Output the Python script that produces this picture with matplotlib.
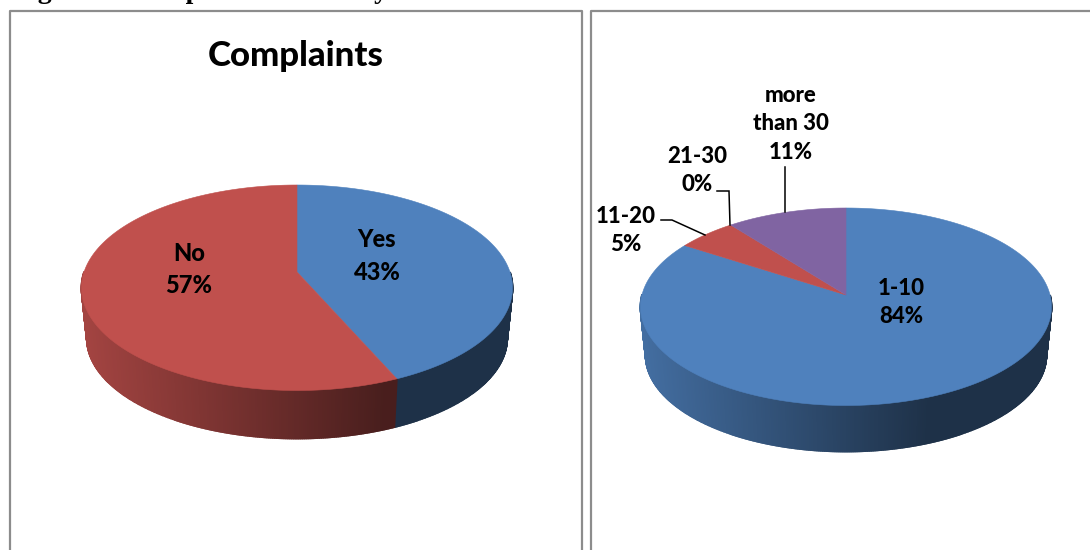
import numpy as np
import matplotlib
matplotlib.use("Agg")
import matplotlib.pyplot as plt
from matplotlib.patches import Polygon

# -------------------------
# Data
# -------------------------
complaint_labels = ["Yes", "No"]
complaint_values = [43.4, 56.6]
complaint_shown = ["43%", "57%"]

count_labels = ["1-10", "11-20", "21-30", "more\nthan 30"]
count_values = [84.1, 5.3, 0.0, 10.6]
count_shown = ["84%", "5%", "0%", "11%"]

complaint_colors = ["#4F81BD", "#C0504D"]
count_colors = ["#4F81BD", "#C0504D", "#9BBB59", "#8064A2"]

plt.rcParams["font.family"] = ["Lato", "DejaVu Sans"]
plt.rcParams["font.weight"] = "bold"


# -------------------------
# Drawing helpers
# -------------------------
def project(angle, cx, cy, a, b, k):
    """Angle clockwise from the top of the disc -> picture position, with perspective."""
    u, v = np.sin(angle), np.cos(angle)
    w = 1 + k * v
    return cx + a * u / w, cy - b * v / w


def side_shade(color, x, cx, rx):
    """Side wall is lighter on the left and dark from a bit right of centre."""
    t = np.clip((x - cx) / rx, -1, 0.4)
    f = 0.85 + (t + 1) / 1.4 * (0.38 - 0.85)
    return tuple(c * f for c in matplotlib.colors.to_rgb(color))


def draw_pie(ax, values, colors, cx, cy, rx, half_top, half_bottom, depth):
    k = (half_bottom - half_top) / (half_bottom + half_top)
    b = half_top * (1 + k)
    a = rx * np.sqrt(1 - k ** 2)
    s = 0.975
    # lower rim: same disc, slightly smaller, moved down
    cy2 = cy + half_bottom + depth - half_bottom * s

    edges = np.cumsum([0] + list(values)) / sum(values) * 2 * np.pi
    for i, color in enumerate(colors):
        if values[i] <= 0:
            continue
        steps = np.arange(edges[i], edges[i + 1], np.radians(0.5))
        steps = np.append(steps, edges[i + 1])
        # wall first, top face covers what is behind
        for t0, t1 in zip(steps[:-1], steps[1:]):
            if np.cos(t0) > 0 and np.cos(t1) > 0:
                continue
            x0, y0 = project(t0, cx, cy, a, b, k)
            x1, y1 = project(t1, cx, cy, a, b, k)
            x2, y2 = project(t1, cx, cy2, a * s, b * s, k)
            x3, y3 = project(t0, cx, cy2, a * s, b * s, k)
            shade = side_shade(color, (x0 + x1) / 2, cx, rx)
            ax.add_patch(Polygon([(x0, y0), (x1, y1), (x2, y2), (x3, y3)],
                                 facecolor=shade, edgecolor=shade, lw=1.3, zorder=2))

    for i, color in enumerate(colors):
        if values[i] <= 0:
            continue
        steps = np.linspace(edges[i], edges[i + 1], 300)
        xs, ys = project(steps, cx, cy, a, b, k)
        pts = [(cx, cy)] + list(zip(xs, ys))
        ax.add_patch(Polygon(pts, facecolor=color, edgecolor=color, lw=0.4, zorder=3))


# -------------------------
# Figure
# -------------------------
fig = plt.figure(figsize=(10.9, 5.5), dpi=100)
ax = fig.add_axes([0, 0, 1, 1])
ax.set_xlim(0, 1090)
ax.set_ylim(550, 0)
ax.axis("off")

# caption cut off by the top of the image
ax.text(13, -2.5, "Figure 4: Complaints and delays", family="Liberation Serif",
        fontweight="bold", fontsize=20, va="baseline", ha="left", color="black")

frame = "#8C8C8C"
ax.plot([9.5, 9.5, 581.5, 581.5], [552, 11, 11, 552], color=frame, lw=1.6, zorder=1)
ax.plot([590.5, 590.5, 1092], [552, 11, 11], color=frame, lw=1.6, zorder=1)

draw_pie(ax, complaint_values, complaint_colors, 297, 272, 215.5, 87, 118.5, 48)
draw_pie(ax, count_values, count_colors, 846, 295, 205.5, 87, 110.5, 46)

left_size = 17
right_size = 16
heavy = 900

ax.text(296, 56.5, "Complaints", fontsize=25, fontweight=heavy, ha="center", va="center",
        color="black", zorder=5)

ax.text(377, 256, complaint_labels[0] + "\n" + complaint_shown[0], fontsize=left_size,
        fontweight=heavy, ha="center", va="center", linespacing=1.5, zorder=5)
ax.text(189, 269.5, complaint_labels[1] + "\n" + complaint_shown[1], fontsize=left_size,
        fontweight=heavy, ha="center", va="center", linespacing=1.47, zorder=5)

ax.text(901, 302.5, count_labels[0] + "\n" + count_shown[0], fontsize=right_size,
        fontweight=heavy, ha="center", va="center", linespacing=1.47, zorder=5)
ax.text(626, 230.5, count_labels[1] + "\n" + count_shown[1], fontsize=right_size,
        fontweight=heavy, ha="center", va="center", linespacing=1.47, zorder=5)
ax.text(697, 170.5, count_labels[2] + "\n" + count_shown[2], fontsize=right_size,
        fontweight=heavy, ha="center", va="center", linespacing=1.47, zorder=5)
ax.text(791, 124, count_labels[3] + "\n" + count_shown[3], fontsize=right_size,
        fontweight=heavy, ha="center", va="center", linespacing=1.47, zorder=5)

# leader lines
ax.plot([661, 672, 705], [220, 220, 235], color="black", lw=1.1, zorder=4, solid_joinstyle="miter")
ax.plot([717, 729, 730], [191, 191, 225], color="black", lw=1.1, zorder=4, solid_joinstyle="miter")
ax.plot([785, 785], [167, 212], color="black", lw=1.1, zorder=4)

fig.savefig("out.png", dpi=100, facecolor="white")
